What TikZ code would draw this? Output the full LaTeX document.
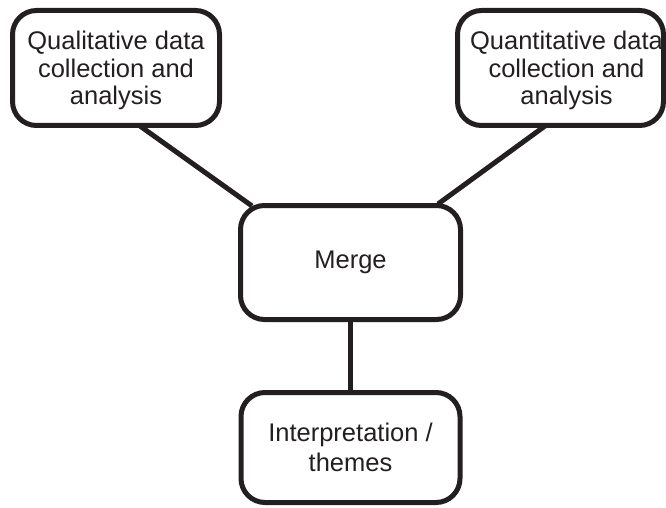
\documentclass[tikz,border=0pt]{standalone}
\usepackage{fontspec}
\setmainfont{Liberation Sans}
\usetikzlibrary{calc,backgrounds}
\definecolor{ink}{HTML}{231F20}
\newcommand{\lowered}[1]{\raisebox{-4pt}[\height][\depth]{\begin{tabular}{@{}c@{}}#1\end{tabular}}}
\tikzset{
  boxnode/.style={draw=ink, line width=5pt, rounded corners=24pt, fill=white,
    align=center, text=ink, inner sep=0pt,
    font=\fontsize{25.5}{27.5}\selectfont},
  link/.style={draw=ink, line width=5pt}
}
\begin{document}
\begin{tikzpicture}[x=1pt,y=-1pt]
\useasboundingbox (0,0) rectangle (666,508);
\node[boxnode, minimum width=207pt, minimum height=115pt] (ql) at (116,68)
  {\lowered{Qualitative data\\collection and\\analysis}};
\node[boxnode, minimum width=206pt, minimum height=115pt] (qn) at (560.5,68)
  {\hspace*{12pt}\lowered{Quantitative data\\collection and\\analysis}};
\node[boxnode, minimum width=220pt, minimum height=114pt] (merge) at (350.5,262.5)
  {Merge};
\node[boxnode, minimum width=219pt, minimum height=110pt, font=\fontsize{25.5}{30}\selectfont] (interp) at (350.5,447.5)
  {Interpretation /\\themes};
\begin{scope}[on background layer]
\draw[link] ($(ql.south)+(24,-2)$) -- ($(merge.north west)+(14,3)$);
\draw[link] ($(qn.south)+(-15.5,-2)$) -- ($(merge.north east)+(-25,1)$);
\draw[link] (merge.south) -- (interp.north);
\end{scope}
\end{tikzpicture}
\end{document}
